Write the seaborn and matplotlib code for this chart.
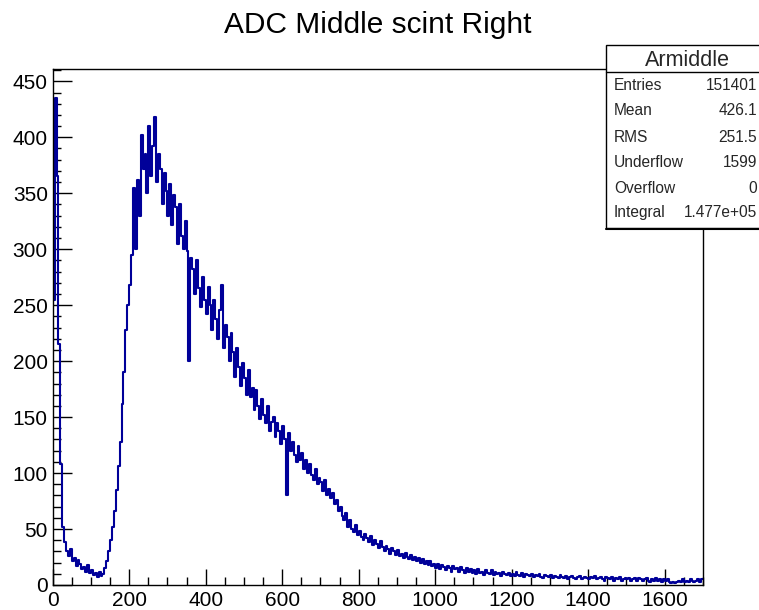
import numpy as np
import pandas as pd
import matplotlib
matplotlib.use("Agg")
import matplotlib.pyplot as plt
from matplotlib.patches import Rectangle
from matplotlib.lines import Line2D
import seaborn as sns

BIN_WIDTH = 5
X_MIN, X_MAX = 0, 1700

counts_0000 = [255, 435, 365, 215, 108, 52, 38, 30, 26, 32, 21, 24, 17, 22, 19, 14, 16, 12, 18, 11]
counts_0100 = [13, 9, 11, 7, 12, 8, 10, 15, 21, 30, 40, 52, 66, 85, 106, 128, 162, 190, 228, 250]
counts_0200 = [268, 295, 355, 300, 362, 330, 402, 372, 385, 350, 410, 365, 392, 418, 360, 385, 372, 340, 368, 352]
counts_0300 = [330, 358, 322, 348, 338, 305, 340, 312, 300, 325, 298, 200, 292, 282, 260, 290, 265, 248, 275, 255]
counts_0400 = [242, 266, 250, 228, 255, 238, 220, 246, 268, 212, 232, 222, 200, 225, 208, 186, 212, 195, 178, 198]
counts_0500 = [185, 170, 192, 168, 176, 156, 174, 160, 148, 166, 152, 145, 160, 138, 146, 150, 132, 145, 138, 126]
counts_0600 = [142, 130, 80, 136, 120, 128, 116, 110, 124, 112, 118, 104, 112, 100, 108, 98, 94, 104, 90, 96]
counts_0700 = [92, 84, 94, 80, 86, 78, 82, 72, 76, 66, 70, 62, 58, 64, 52, 58, 50, 47, 54, 45]
counts_0800 = [48, 43, 40, 46, 42, 38, 44, 36, 40, 37, 33, 39, 34, 30, 35, 32, 28, 33, 30, 27]
counts_0900 = [31, 26, 28, 24, 29, 25, 23, 27, 22, 25, 21, 24, 20, 23, 19, 21, 18, 21, 17, 19]
counts_1000 = [15, 19, 14, 18, 16, 13, 17, 15, 12, 17, 14, 15, 12, 16, 13, 11, 15, 12, 14, 11]
counts_1100 = [13, 10, 14, 11, 12, 9, 13, 11, 10, 13, 9, 12, 10, 11, 8, 12, 10, 9, 11, 8]
counts_1200 = [10, 8, 12, 9, 8, 11, 7, 10, 9, 8, 10, 7, 9, 8, 10, 7, 6, 9, 8, 7]
counts_1300 = [9, 6, 8, 7, 6, 9, 7, 6, 8, 5, 7, 8, 6, 5, 7, 8, 5, 6, 7, 6]
counts_1400 = [5, 7, 6, 8, 5, 6, 7, 5, 4, 7, 6, 5, 7, 4, 6, 5, 7, 4, 5, 6]
counts_1500 = [5, 6, 4, 5, 6, 4, 6, 5, 4, 5, 6, 4, 3, 5, 4, 6, 4, 5, 3, 5]
counts_1600 = [4, 5, 3, 2, 3, 2, 3, 4, 3, 5, 3, 4, 3, 5, 4, 3, 4, 5, 3, 5]

title = "ADC Middle scint Right"
stats_name = "Armiddle"
stats_labels = ["Entries", "Mean", "RMS", "Underflow", "Overflow", "Integral"]
stats_values = ["151401", "426.1", "251.5", "1599", "0", "1.477e+05"]

x_ticks = [0, 200, 400, 600, 800, 1000, 1200, 1400, 1600]
y_ticks = [0, 50, 100, 150, 200, 250, 300, 350, 400, 450]
Y_MAX = 461

counts = (counts_0000 + counts_0100 + counts_0200 + counts_0300 + counts_0400 +
          counts_0500 + counts_0600 + counts_0700 + counts_0800 + counts_0900 +
          counts_1000 + counts_1100 + counts_1200 + counts_1300 + counts_1400 +
          counts_1500 + counts_1600)
edges = np.arange(X_MIN, X_MAX + BIN_WIDTH, BIN_WIDTH)
centers = 0.5 * (edges[:-1] + edges[1:])
df = pd.DataFrame({"adc": centers, "count": np.array(counts, dtype=float)})

# ---- figure ----
sns.set_theme(style="ticks")
plt.rcParams['font.family'] = ['Liberation Sans', 'DejaVu Sans']

W, H = 759, 610
fig = plt.figure(figsize=(W / 100, H / 100), dpi=100)
ax = fig.add_axes([52.7 / W, 1 - 585 / H, (703 - 52.7) / W, (585 - 69) / H])

sns.histplot(data=df, x="adc", weights="count", bins=list(edges), element="step",
             fill=False, color="#000099", linewidth=1.5, ax=ax)

ax.set_xlim(X_MIN, X_MAX)
ax.set_ylim(0, Y_MAX)
ax.set_xlabel("")
ax.set_ylabel("")
ax.set_xticks(x_ticks)
ax.set_yticks(y_ticks)
ax.set_xticks(np.arange(X_MIN, X_MAX + 1, 50), minor=True)
ax.set_yticks(np.arange(0, Y_MAX, 10), minor=True)
ax.set_xticklabels([str(t) for t in x_ticks])
ax.set_yticklabels([str(t) for t in y_ticks])

for s in ax.spines.values():
    s.set_visible(True)
    s.set_linewidth(1.0)
    s.set_color("black")

ax.tick_params(axis='both', which='both', direction='in', top=False, right=False,
               colors='black', labelsize=15, width=1.0)
ax.tick_params(axis='y', which='major', length=13.7, pad=3.5)
ax.tick_params(axis='y', which='minor', length=6)
ax.tick_params(axis='x', which='major', length=11.2, pad=4.5)
ax.tick_params(axis='x', which='minor', length=5.5)

fig.text(377.5 / W, 1 - 33 / H, title, ha='center', va='baseline', fontsize=21.5, color='black')

# ---- stats box ----
bx0, bx1, by_top, by_bot, by_div = 606, 770, 45, 228, 72
fig.patches.append(Rectangle((bx0 / W, 1 - by_bot / H), (bx1 - bx0) / W, (by_bot - by_top) / H,
                             transform=fig.transFigure, facecolor='white', edgecolor='black',
                             linewidth=1.0, zorder=5))
fig.lines.append(Line2D([bx0 / W, bx1 / W], [1 - by_div / H, 1 - by_div / H],
                        transform=fig.transFigure, color='black', linewidth=1.0, zorder=6))
fig.lines.append(Line2D([bx0 / W, bx1 / W], [1 - (by_bot + 1) / H, 1 - (by_bot + 1) / H],
                        transform=fig.transFigure, color='black', linewidth=1.5, zorder=6))
fig.text(687.5 / W, 1 - 60 / H, stats_name, ha='center', va='center', fontsize=15.5, zorder=7)
row_y = [85, 110.7, 137.3, 162.7, 188.3, 212.7]
for lab, val, yy in zip(stats_labels, stats_values, row_y):
    fig.text(614 / W, 1 - yy / H, lab, ha='left', va='center', fontsize=11.2, zorder=7)
    fig.text(757 / W, 1 - yy / H, val, ha='right', va='center', fontsize=11.2, zorder=7)

fig.savefig("out.png", dpi=100)
